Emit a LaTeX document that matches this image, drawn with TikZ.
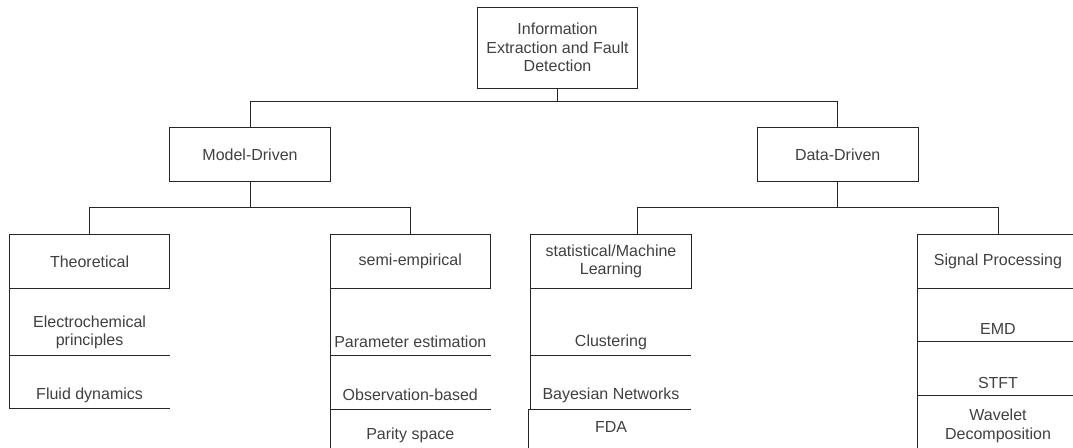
\documentclass[tikz,border=0pt]{standalone}
\usepackage{fontspec}
\setmainfont{Liberation Sans}
\begin{document}
\begin{tikzpicture}[x=1pt,y=-1pt,
  ln/.style={line width=1pt, draw=black!85},
  box/.style={ln, draw, rectangle, outer sep=0pt, inner sep=0pt, minimum height=53.7pt, minimum width=160.6pt, align=center, text=black!75, font=\fontsize{16}{18.7}\selectfont},
  txt/.style={inner sep=0pt, align=center, text=black!75, font=\fontsize{16}{18.7}\selectfont}]
\useasboundingbox (0,0) rectangle (1073,447);
% boxes
\node[box, minimum height=81pt] (top) at (557.5,47.5) {Information\\Extraction and Fault\\Detection};
\node[box] (model) at (250,154.3) {Model-Driven};
\node[box] (data) at (837.7,154.3) {Data-Driven};
\node[box] (theo) at (89.6,261.3) {Theoretical};
\node[box] (semi) at (410.3,261.3) {semi-empirical};
\node[box] (stat) at (611,261.3) {statistical/Machine\\Learning};
\node[box] (sig) at (998,261.3) {Signal Processing};
% connectors
\draw[ln] (top.south) -- ++(0,13.3) coordinate (bus) -| (model.north);
\draw[ln] (bus) -| (data.north);
\draw[ln] (model.south) -- ++(0,26.7) coordinate (mbus) -| (theo.north);
\draw[ln] (mbus) -| (semi.north);
\draw[ln] (data.south) -- ++(0,26.7) coordinate (dbus) -| ([xshift=26.3pt]stat.north);
\draw[ln] (dbus) -| (sig.north);
% item texts
\node[txt] (t1) at (89.6,332.5) {Electrochemical\\principles};
\node[txt] (t2) at (89.6,395.2) {Fluid dynamics};
\node[txt] (s1) at (410.3,341.5) {Parameter estimation};
\node[txt] (s2) at (410.3,395.2) {Observation-based};
\node[txt] (s3) at (410.3,435.2) {Parity space};
\node[txt] (m1) at (611,342.2) {Clustering};
\node[txt] (m2) at (611,395.2) {Bayesian Networks};
\node[txt] (m3) at (611,427.3) {FDA};
\node[txt] (g1) at (998,329.3) {EMD};
\node[txt] (g2) at (998,382.7) {STFT};
\node[txt] (g3) at (998,425.8) {Wavelet\\Decomposition};
% item borders (left and bottom)
\draw[ln] (theo.south west) -- (theo.west |- 0,408.3) -- (theo.east |- 0,408.3);
\draw[ln] (theo.west |- 0,355) -- (theo.east |- 0,355);
\draw[ln] (semi.south west) -- (semi.west |- 0,450);
\draw[ln] (semi.west |- 0,355) -- (semi.east |- 0,355);
\draw[ln] (semi.west |- 0,409) -- (semi.east |- 0,409);
\draw[ln] (stat.south west) -- (stat.west |- 0,409);
\draw[ln] ([xshift=-2pt]stat.west |- 0,409) -- ([xshift=-2pt]stat.west |- 0,450);
\draw[ln] (stat.west |- 0,355) -- (stat.east |- 0,355);
\draw[ln] ([xshift=-2pt]stat.west |- 0,409) -- (stat.east |- 0,409);
\draw[ln] (sig.south west) -- (sig.west |- 0,450);
\draw[ln] (sig.west |- 0,341.7) -- (sig.east |- 0,341.7);
\draw[ln] (sig.west |- 0,395.7) -- (sig.east |- 0,395.7);
\end{tikzpicture}
\end{document}
